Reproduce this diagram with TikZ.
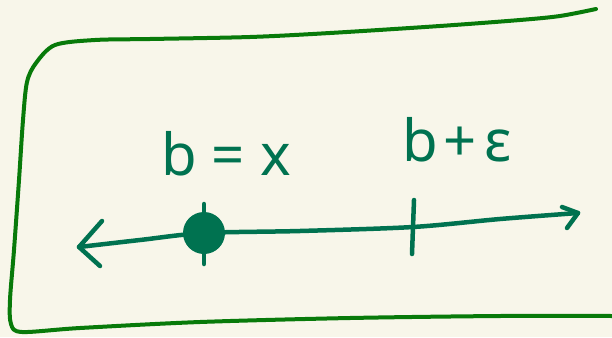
\documentclass[tikz,border=0pt]{standalone}
\usepackage{fontspec}
\setmainfont{Noto Sans}
\usetikzlibrary{arrows.meta, positioning}
\definecolor{mypaper}{RGB}{248, 246, 234}
\definecolor{myboxgreen}{RGB}{8, 122, 10}
\definecolor{myinkgreen}{RGB}{0, 114, 80}

\begin{document}
\begin{tikzpicture}[x=1pt, y=-1pt,
  hand/.style={line width=4.5, line cap=round, line join=round, myinkgreen},
  handtext/.style={text=myinkgreen, font=\fontsize{58}{58}\selectfont\bfseries, inner sep=0}]
\fill[mypaper] (0,0) rectangle (612,337);
\useasboundingbox (0,0) rectangle (612,337);

% --- Frame ---
\draw[line width=4, myboxgreen, line cap=round, line join=round] plot[smooth, tension=0.5] coordinates {(596,9) (560,16) (520,20) (440,26) (330,33) (250,37) (150,39) (95,40) (55,45) (36,63) (27,82) (23,120) (19,180) (14,250) (10,300) (11,324) (22,332) (80,328) (200,322) (350,318) (500,316) (612,316)};

% --- Labels ---
\node [handtext] (bxlabel) at (226,154) {b = x};
\node [handtext] (epslabel) at (457,140) {b\kern5pt+\kern8pt ε};

% --- Number line ---
\coordinate (leftend) at (79,247);
\coordinate (rightend) at (578,213);
\node [circle, fill=myinkgreen, minimum width=42, minimum height=36, inner sep=0] (bx) at (204,233) {};
\coordinate (eps) at (413,227);
\draw[hand] plot[smooth] coordinates {(leftend) (140,240) (bx.center) (300,231) (eps) (500,219) (rightend)};

% --- Arrow tips ---
\draw[hand] (102,221) -- (leftend) -- (100,266);
\draw[hand] (562,207) -- (rightend) -- (567,228);

% --- Ticks ---
\draw[hand] ([yshift=-31]bx.center) -- ([yshift=29]bx.center);
\draw[hand] ([xshift=-1, yshift=-27]eps) -- ([xshift=1, yshift=27]eps);
\end{tikzpicture}
\end{document}
